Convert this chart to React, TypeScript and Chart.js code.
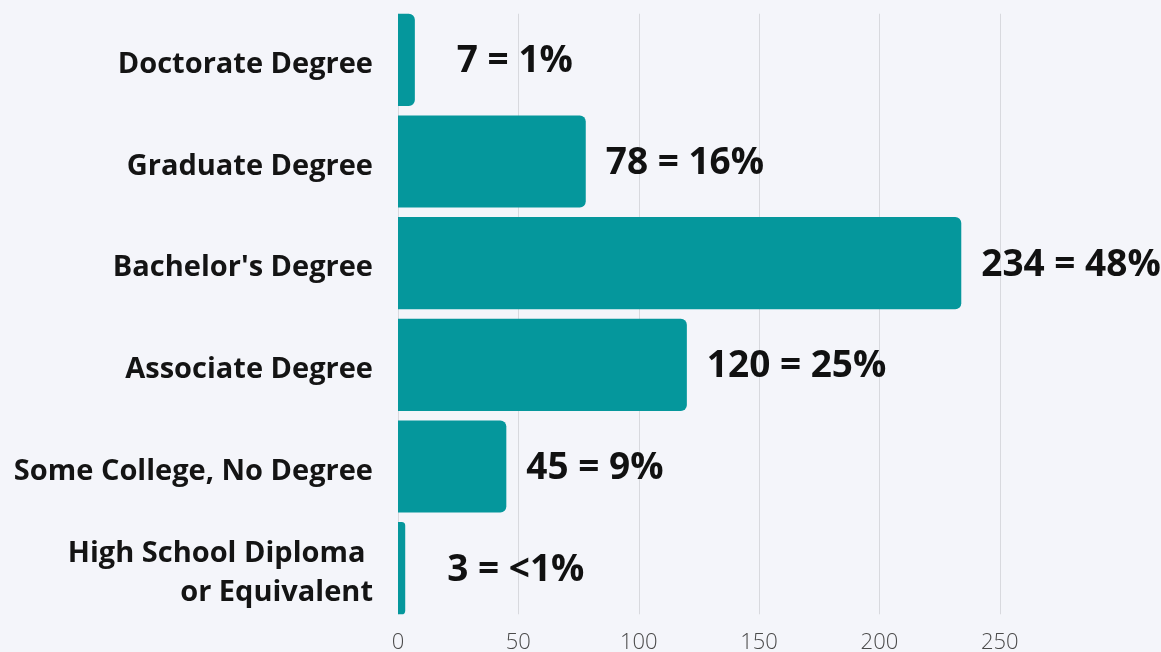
import React, { useEffect, useRef } from "react";
import { Chart, registerables } from "chart.js";

Chart.register(...registerables);

const categories: (string | string[])[] = [
  "Doctorate Degree",
  "Graduate Degree",
  "Bachelor's Degree",
  "Associate Degree",
  "Some College, No Degree",
  ["High School Diploma ", "or Equivalent"],
];
const counts: number[] = [7, 78, 234, 120, 45, 3];
const percentLabels: string[] = ["1%", "16%", "48%", "25%", "9%", "<1%"];
const xTickStep = 50;
const xMax = 280;

const BG = "#f4f5fa";
const BAR = "#05979c";
const GRID = "#d8d9de";

const gridPlugin = {
  id: "customGrid",
  beforeDatasetsDraw(chart: any) {
    const meta = chart.getDatasetMeta(0);
    const els = meta.data;
    if (!els.length) return;
    const first = els[0].getProps(["y", "height"], true);
    const last = els[els.length - 1].getProps(["y", "height"], true);
    const top = first.y - first.height / 2;
    const bottom = last.y + last.height / 2;
    const xs = chart.scales.x;
    const ctx = chart.ctx;
    ctx.save();
    ctx.strokeStyle = GRID;
    ctx.lineWidth = 1;
    xs.ticks.forEach((t: any) => {
      const px = Math.round(xs.getPixelForValue(t.value)) + 0.5;
      ctx.beginPath();
      ctx.moveTo(px, top);
      ctx.lineTo(px, bottom);
      ctx.stroke();
    });
    ctx.restore();
  },
};

const labelPlugin = {
  id: "valueLabels",
  afterDatasetsDraw(chart: any) {
    const meta = chart.getDatasetMeta(0);
    const ctx = chart.ctx;
    ctx.save();
    ctx.font = "700 37px 'Open Sans'";
    ctx.fillStyle = "#111111";
    ctx.textAlign = "left";
    ctx.textBaseline = "middle";
    meta.data.forEach((el: any, i: number) => {
      const p = el.getProps(["x", "y"], true);
      const v = counts[i];
      const off = v < 10 ? 42 : 20;
      ctx.fillText(`${v} = ${percentLabels[i]}`, p.x + off, p.y + 2);
    });
    ctx.restore();
  },
};

const bgPlugin = {
  id: "bg",
  beforeDraw(chart: any) {
    const ctx = chart.ctx;
    ctx.save();
    ctx.fillStyle = BG;
    ctx.fillRect(0, 0, chart.width, chart.height);
    ctx.restore();
  },
};

export default function App() {
  const ref = useRef<HTMLCanvasElement | null>(null);
  useEffect(() => {
    document.body.style.margin = "0";
    document.body.style.background = BG;
    if (!ref.current) return;
    const chart = new Chart(ref.current, {
      type: "bar",
      data: {
        labels: categories as any,
        datasets: [
          {
            data: counts,
            backgroundColor: BAR,
            borderWidth: 0,
            borderRadius: 6,
            borderSkipped: "start",
            barPercentage: 0.907,
            categoryPercentage: 1,
          },
        ],
      },
      options: {
        indexAxis: "y",
        responsive: false,
        animation: false,
        layout: { padding: { top: 9, right: 89, left: 0, bottom: 0 } },
        plugins: { legend: { display: false }, tooltip: { enabled: false } },
        scales: {
          x: {
            min: 0,
            max: xMax,
            grid: { display: false },
            border: { display: false },
            ticks: {
              stepSize: xTickStep,
              color: "#4a4a4a",
              padding: 3,
              font: { family: "'Open Sans'", size: 22, weight: 300 },
            },
            afterBuildTicks: (axis: any) => {
              axis.ticks = axis.ticks.filter((t: any) => t.value % xTickStep === 0);
            },
            afterFit: (scale: any) => {
              scale.height = 33;
              scale.paddingLeft = 0;
              scale.paddingRight = 0;
            },
          },
          y: {
            grid: { display: false, drawTicks: false },
            border: { display: false },
            ticks: {
              color: "#141414",
              padding: 25,
              labelOffset: 5,
              font: { family: "'Open Sans'", size: 29, weight: "bold", lineHeight: 1.33 },
            },
            afterFit: (scale: any) => {
              scale.width = 398;
              scale.paddingTop = 0;
              scale.paddingBottom = 0;
            },
          },
        },
      },
      plugins: [bgPlugin, gridPlugin, labelPlugin],
    });
    return () => chart.destroy();
  }, []);
  return (
    <div style={{ position: "absolute", left: 0, top: 0, width: 1161, height: 652, background: BG }}>
      <canvas ref={ref} width={1161} height={652} style={{ display: "block", width: 1161, height: 652 }} />
    </div>
  );
}
